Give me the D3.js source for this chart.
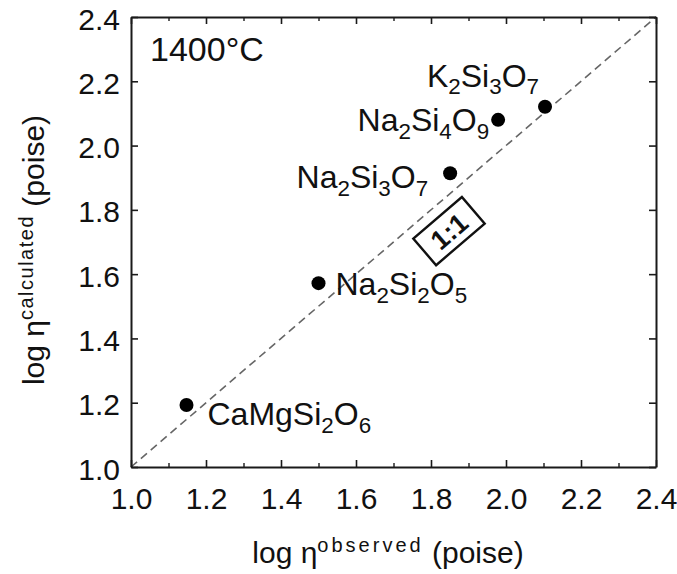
<!DOCTYPE html>
<html>
<head>
<meta charset="utf-8">
<script src="https://cdn.jsdelivr.net/npm/d3@7"></script>
<style>
  html, body { margin: 0; padding: 0; background: #fff; }
  svg { display: block; }
  text { font-family: "Liberation Sans", Arial, Helvetica, sans-serif; fill: #111; }
</style>
</head>
<body>
<svg id="chart" width="677" height="574"></svg>
<script>
// Melt compositions and their viscosities at 1400 °C (log poise)
const compounds = ["CaMgSi2O6", "Na2Si2O5", "Na2Si3O7", "Na2Si4O9", "K2Si3O7"];
const observed   = [1.148, 1.500, 1.851, 1.979, 2.104];
const calculated = [1.193, 1.572, 1.914, 2.080, 2.121];

const majorTicks = [1.0, 1.2, 1.4, 1.6, 1.8, 2.0, 2.2, 2.4];
const minorTicks = [1.1, 1.3, 1.5, 1.7, 1.9, 2.1, 2.3];
const tickLabels = ["1.0", "1.2", "1.4", "1.6", "1.8", "2.0", "2.2", "2.4"];

// label placement relative to each marker (px)
const labelOffsets = [
  { dx: 21, dy: 20, anchor: "start" },
  { dx: 17, dy: 12, anchor: "start" },
  { dx: -22, dy: 15, anchor: "end" },
  { dx: -9, dy: 11, anchor: "end" },
  { dx: -6, dy: -20, anchor: "end" }
];

const svg = d3.select("#chart");
const x = d3.scaleLinear().domain([1.0, 2.4]).range([131, 656]);
const y = d3.scaleLinear().domain([1.0, 2.4]).range([467, 17]);

const frameColor = "#1a1a1a";

// 1:1 reference line
svg.append("line")
  .attr("x1", x(1.0)).attr("y1", y(1.0))
  .attr("x2", x(2.4)).attr("y2", y(2.4))
  .attr("stroke", "#666").attr("stroke-width", 1.6)
  .attr("stroke-dasharray", "8,5");

// axes with inward ticks
const axes = [
  { make: d3.axisBottom, scale: x, t: `translate(0,${y(1.0)})`, labels: true, minor: true, side: "bottom" },
  { make: d3.axisTop, scale: x, t: `translate(0,${y(2.4)})`, labels: false, minor: true, side: "top" },
  { make: d3.axisLeft, scale: y, t: `translate(${x(1.0)},0)`, labels: true, minor: false, side: "left" },
  { make: d3.axisRight, scale: y, t: `translate(${x(2.4)},0)`, labels: false, minor: false, side: "right" }
];

axes.forEach(a => {
  if (a.minor) {
    const mg = svg.append("g").attr("transform", a.t);
    mg.call(a.make(a.scale).tickValues(minorTicks).tickSizeOuter(0).tickSizeInner(-4).tickFormat(""));
    mg.select(".domain").remove();
    mg.selectAll(".tick line").attr("stroke", frameColor).attr("stroke-width", 1.4);
  }
  const g = svg.append("g").attr("transform", a.t);
  g.call(a.make(a.scale).tickValues(majorTicks).tickSizeOuter(0).tickSizeInner(-7)
    .tickFormat((d, i) => a.labels ? tickLabels[i] : ""));
  g.select(".domain").attr("stroke", frameColor).attr("stroke-width", 2);
  g.selectAll(".tick line").attr("stroke", frameColor).attr("stroke-width", 1.6);
  const tt = g.selectAll(".tick text").attr("font-size", 30).attr("fill", "#111")
    .attr("font-family", '"Liberation Sans", Arial, sans-serif');
  if (a.side === "bottom") tt.attr("dy", null).attr("y", 42);
  if (a.side === "left") tt.attr("x", -11).attr("dy", "0.4em");
});

// chemical formula: digits become subscripts
function formula(sel, str, size) {
  const parts = str.match(/[A-Za-z]+|\d+/g);
  parts.forEach((p, k) => {
    if (/\d/.test(p)) {
      sel.append("tspan").attr("font-size", size * 0.7).attr("dy", size * 0.24).text(p);
    } else {
      const t = sel.append("tspan").text(p);
      if (k > 0) t.attr("dy", -size * 0.24);
    }
  });
}

// markers
svg.append("g").selectAll("circle")
  .data(compounds)
  .join("circle")
  .attr("cx", (d, i) => x(observed[i]))
  .attr("cy", (d, i) => y(calculated[i]))
  .attr("r", 7)
  .attr("fill", "#000");

// formula labels
compounds.forEach((c, i) => {
  const o = labelOffsets[i];
  const t = svg.append("text")
    .attr("x", x(observed[i]) + o.dx)
    .attr("y", y(calculated[i]) + o.dy)
    .attr("text-anchor", o.anchor)
    .attr("font-size", 32);
  formula(t, c, 32);
});

// temperature annotation
svg.append("text").attr("x", 150).attr("y", 61)
  .attr("font-size", 34).text("1400°C");

// 1:1 tag along the diagonal
const angle = -Math.atan2(y(1.0) - y(2.4), x(2.4) - x(1.0)) * 180 / Math.PI;
const tag = svg.append("g")
  .attr("transform", `translate(${x(1.848)},${y(1.734)}) rotate(${angle})`);
tag.append("rect").attr("x", -32).attr("y", -17.5).attr("width", 64).attr("height", 35)
  .attr("fill", "#fff").attr("stroke", "#111").attr("stroke-width", 2.4);
tag.append("text").attr("text-anchor", "middle").attr("dy", "0.36em")
  .attr("font-size", 27).attr("font-weight", "bold").text("1:1");

// axis titles
const xt = svg.append("text").attr("x", 388).attr("y", 563)
  .attr("text-anchor", "middle").attr("font-size", 30);
xt.append("tspan").text("log η");
xt.append("tspan").attr("font-size", 20).attr("letter-spacing", 3).attr("dy", -11).text("observed");
xt.append("tspan").attr("dy", 11).text(" (poise)");

const yt = svg.append("text")
  .attr("transform", "translate(44,250) rotate(-90)")
  .attr("text-anchor", "middle").attr("font-size", 30);
yt.append("tspan").text("log η");
yt.append("tspan").attr("font-size", 20).attr("letter-spacing", 1.5).attr("dy", -11).text("calculated");
yt.append("tspan").attr("dy", 11).text(" (poise)");
</script>
</body>
</html>
